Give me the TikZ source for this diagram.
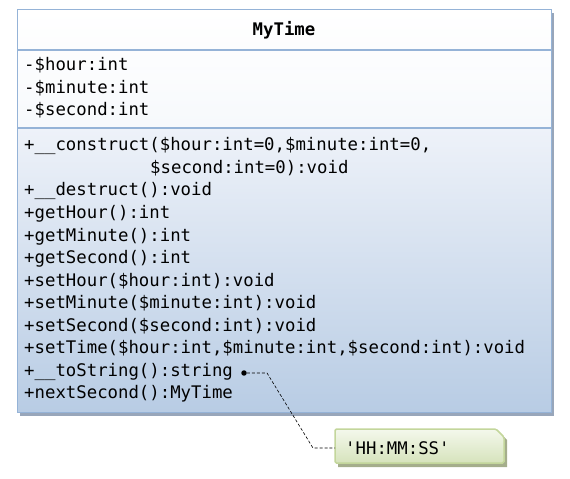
\documentclass[tikz,border=0pt]{standalone}
\usepackage{fontspec}
\setmonofont{DejaVu Sans Mono}
\definecolor{umlline}{HTML}{95B3D7}
\definecolor{umlshadow}{HTML}{98A6BA}
\definecolor{umltop}{HTML}{EEF2F9}
\definecolor{umlbottom}{HTML}{B8CCE4}
\definecolor{noteline}{HTML}{C3D69B}
\definecolor{notetop}{HTML}{F4F8EC}
\definecolor{notebottom}{HTML}{D6E3BC}
\definecolor{noteshadow}{HTML}{A5AE8C}
\tikzset{
  umlfont/.style={font=\ttfamily\fontsize{17.4}{20}\selectfont},
  member/.style={umlfont, anchor=base west, inner sep=0pt},
  title/.style={umlfont, font=\ttfamily\bfseries\fontsize{17.4}{20}\selectfont, anchor=base, inner sep=0pt},
  dot/.style={circle, fill=black, inner sep=0pt, minimum size=5.5pt},
  link/.style={densely dashed, line width=0.6pt}
}
\begin{document}
\begin{tikzpicture}[x=1bp, y=-1bp]
\useasboundingbox (0,0) rectangle (570,479);

% class box
\fill[umlshadow] (20,13) rectangle (554,416);
\shade[top color=white, bottom color=white!97!umlline] (17,10) rectangle (551,50);
\shade[top color=white!98!umlline, bottom color=white!92!umlline] (17,50) rectangle (551,128);
\shade[top color=umltop, bottom color=umlbottom] (17,128) rectangle (551,412);
\draw[umlline, line width=1pt] (17,10) rectangle (551,412);
\draw[umlline, line width=1.5pt] (17,50) -- (551,50);
\draw[umlline, line width=1.5pt] (17,128) -- (551,128);

\node[title] (name) at (284,36) {MyTime};

\node[member] (a1) at (24,71) {-\$hour:int};
\node[member] (a2) at (24,93.5) {-\$minute:int};
\node[member] (a3) at (24,116) {-\$second:int};

\node[member] (m1) at (24,151) {+\_\_construct(\$hour:int=0,\$minute:int=0,};
\node[member] (m1b) at (150,173.5) {\$second:int=0):void};
\node[member] (m2) at (24,196) {+\_\_destruct():void};
\node[member] (m3) at (24,218.5) {+getHour():int};
\node[member] (m4) at (24,241) {+getMinute():int};
\node[member] (m5) at (24,263.5) {+getSecond():int};
\node[member] (m6) at (24,286) {+setHour(\$hour:int):void};
\node[member] (m7) at (24,308.5) {+setMinute(\$minute:int):void};
\node[member] (m8) at (24,331) {+setSecond(\$second:int):void};
\node[member] (m9) at (24,353.5) {+setTime(\$hour:int,\$minute:int,\$second:int):void};
\node[member] (m10) at (24,376) {+\_\_toString():string};
\node[member] (m11) at (24,398.5) {+nextSecond():MyTime};

% note
\fill[noteshadow] (338,432) -- (499,432) -- (507,440) -- (507,467) -- (338,467) -- cycle;
\shade[top color=notetop, bottom color=notebottom, draw=noteline, line width=1.5pt, rounded corners=1.5pt]
  (335,429) -- (496,429) -- (504,437) -- (504,463) -- (335,463) -- cycle;
\node[member] (note) at (345,454) {'HH:MM:SS'};
\coordinate (noteedge) at (335,448);

\node[dot] (dot) at (244,373) {};
\coordinate (bend1) at (267,373);
\coordinate (bend2) at (313,448);
\draw[link] (dot) -- (bend1) -- (bend2) -- (noteedge);
\end{tikzpicture}
\end{document}
